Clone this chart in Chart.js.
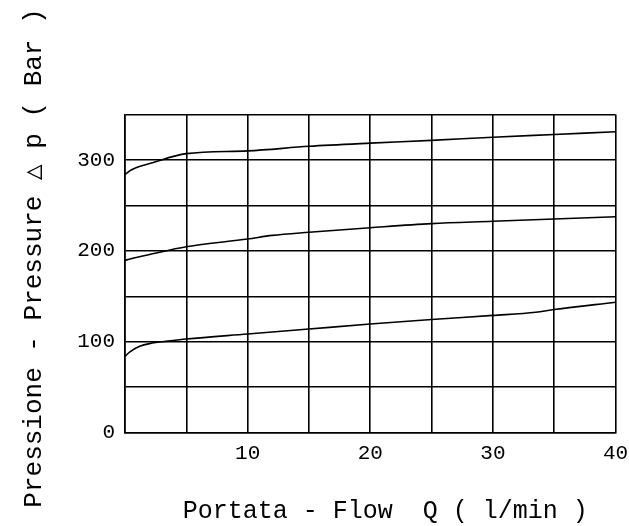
<!DOCTYPE html>
<html><head><meta charset="utf-8">
<script src="https://cdn.jsdelivr.net/npm/chart.js@4"></script>
<style>html,body{margin:0;padding:0;background:#fff}</style>
</head><body>
<canvas id="c" width="629" height="526"></canvas>
<script>
const xTitle = '  Portata - Flow  Q ( l/min )';
const yTitle = '  Pressione - Pressure \u25B3 p ( Bar )';
const xTickLabels = ['10', '20', '30', '40'];
const yTickLabels = ['0', '100', '200', '300'];

const flowHigh  = [0, 0.5, 1, 2, 5, 10, 15, 20, 25, 30, 35, 40];
const pressHigh = [284, 289, 292, 296, 307, 310, 315, 318.5, 321.5, 325, 328, 331];

const flowMid  = [0, 1, 2, 5, 10, 12, 15, 20, 25, 30, 35, 40];
const pressMid = [189.5, 193, 196, 204.5, 213, 217, 220.5, 225.5, 230, 232.5, 235, 237.5];

const flowLow  = [0, 0.4, 1.2, 2, 3.7, 5, 10, 15, 20, 25, 30, 33.5, 35, 40];
const pressLow = [84, 89, 95, 98, 101, 103, 108.5, 114, 119.5, 124.5, 129, 132.5, 135.5, 143.5];

function pts(xs, ys) { return xs.map((x, i) => ({ x: x, y: ys[i] })); }

const FONT = '"Liberation Mono", "DejaVu Sans Mono", monospace';
const lineStyle = {
  borderColor: '#000', borderWidth: 1.6, pointRadius: 0, fill: false,
  cubicInterpolationMode: 'monotone'
};

new Chart(document.getElementById('c'), {
  type: 'line',
  data: {
    datasets: [
      Object.assign({ data: pts(flowHigh, pressHigh) }, lineStyle),
      Object.assign({ data: pts(flowMid, pressMid) }, lineStyle),
      Object.assign({ data: pts(flowLow, pressLow) }, lineStyle)
    ]
  },
  options: {
    responsive: false,
    animation: false,
    layout: { padding: { left: 0, top: 114.5, right: 13.5, bottom: 0 } },
    plugins: { legend: { display: false }, tooltip: { enabled: false } },
    scales: {
      x: {
        type: 'linear', min: 0, max: 40,
        grid: { color: '#000', lineWidth: 1.6, drawTicks: false },
        border: { display: true, color: '#000', width: 1.6 },
        ticks: {
          stepSize: 5, autoSkip: false, maxRotation: 0, padding: 8,
          color: '#000', font: { family: FONT, size: 21 },
          callback: v => xTickLabels.includes(String(v)) ? String(v) : ''
        },
        title: { display: true, text: xTitle, color: '#000',
          font: { family: FONT, size: 25 }, padding: { top: 0, bottom: 0 } },
        afterFit: s => { s.height = 526 - 432.7; s.paddingLeft = 0; s.paddingRight = 0; }
      },
      y: {
        type: 'linear', min: 0, max: 350,
        grid: { color: '#000', lineWidth: 1.6, drawTicks: false },
        border: { display: true, color: '#000', width: 1.6 },
        ticks: {
          stepSize: 50, autoSkip: false, padding: 10,
          color: '#000', font: { family: FONT, size: 21 },
          callback: v => yTickLabels.includes(String(v)) ? String(v) : ''
        },
        title: { display: true, text: yTitle, color: '#000',
          font: { family: FONT, size: 26 }, padding: { top: 19, bottom: 0 } },
        afterFit: s => { s.width = 125; s.paddingTop = 0; s.paddingBottom = 0; }
      }
    }
  }
});
</script>
</body></html>
